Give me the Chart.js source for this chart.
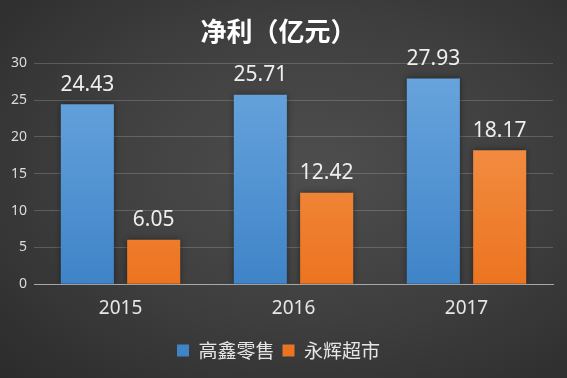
<!DOCTYPE html>
<html><head><meta charset="utf-8">
<script src="https://cdn.jsdelivr.net/npm/chart.js@4.4.0/dist/chart.umd.min.js"></script>
<style>
html,body{margin:0;padding:0;}
body{width:567px;height:378px;background:radial-gradient(ellipse at 55% 45%, #4e4e4e 0%, #3f3f3f 50%, #2b2b2b 100%);overflow:hidden;}
#wrap{width:567px;height:378px;position:relative;}
</style></head>
<body><div id="wrap"><canvas id="c" width="567" height="378"></canvas></div>
<script>
const categories = ['2015', '2016', '2017'];
const seriesNames = ['高鑫零售', '永辉超市'];
const gaoxin = [24.43, 25.71, 27.93];
const yonghui = [6.05, 12.42, 18.17];
const yTicks = [0, 5, 10, 15, 20, 25, 30];

const FONT = "'Noto Sans', 'Noto Sans CJK SC', sans-serif";

function grad(ctx, top, bottom){
  const chart = ctx.chart;
  const area = chart.chartArea;
  if(!area) return top;
  const g = chart.ctx.createLinearGradient(0, area.top, 0, area.bottom);
  g.addColorStop(0, top);
  g.addColorStop(1, bottom);
  return g;
}

const labelPlugin = {
  id: 'valueLabels',
  afterDatasetsDraw(chart){
    const c = chart.ctx;
    c.save();
    c.font = "21px " + FONT;
    c.fillStyle = '#eeeeee';
    c.textAlign = 'center';
    c.textBaseline = 'bottom';
    chart.data.datasets.forEach((ds, i) => {
      chart.getDatasetMeta(i).data.forEach((bar, j) => {
        c.fillText(ds.data[j].toFixed(2), bar.x, bar.y - 9);
      });
    });
    c.restore();
  }
};

const shadowPlugin = {
  id: 'barShadow',
  beforeDatasetsDraw(chart){
    chart.ctx.save();
    chart.ctx.shadowColor = 'rgba(0,0,0,0.45)';
    chart.ctx.shadowBlur = 6;
  },
  afterDatasetsDraw(chart){
    chart.ctx.restore();
  }
};

new Chart(document.getElementById('c'), {
  type: 'bar',
  data: {
    labels: categories,
    datasets: [
      { label: seriesNames[0], data: gaoxin,
        backgroundColor: ctx => grad(ctx, '#6aa6de', '#3f84c8') },
      { label: seriesNames[1], data: yonghui,
        backgroundColor: ctx => grad(ctx, '#f59a55', '#ec7420') }
    ]
  },
  plugins: [shadowPlugin, labelPlugin],
  options: {
    responsive: false,
    animation: false,
    devicePixelRatio: 1,
    layout: { padding: { left: 4, right: 14, top: 0, bottom: 8 } },
    datasets: { bar: { categoryPercentage: 0.767, barPercentage: 0.8 } },
    scales: {
      x: {
        grid: { display: false, drawTicks: false },
        border: { display: true, color: '#a8a8a8', width: 1 },
        ticks: { color: '#e6e6e6', font: { size: 19, family: FONT }, padding: 13 }
      },
      y: {
        min: 0, max: 30,
        afterBuildTicks(axis){ axis.ticks = yTicks.map(v => ({ value: v })); },
        grid: { color: 'rgba(255,255,255,0.18)', drawTicks: false },
        border: { display: false },
        ticks: { color: '#dcdcdc', font: { size: 14, family: FONT }, padding: 7 }
      }
    },
    plugins: {
      title: {
        display: true, text: '净利（亿元）', color: '#ffffff',
        font: { size: 26, weight: 'bold', family: "'Noto Sans CJK SC', sans-serif" },
        padding: { top: 16, bottom: 16 }
      },
      legend: {
        position: 'bottom',
        labels: { color: '#e6e6e6', boxWidth: 12, boxHeight: 12, padding: 8,
          font: { size: 19, family: "'Noto Sans CJK SC', sans-serif" } }
      },
      tooltip: { enabled: false }
    }
  }
});
</script></body></html>
